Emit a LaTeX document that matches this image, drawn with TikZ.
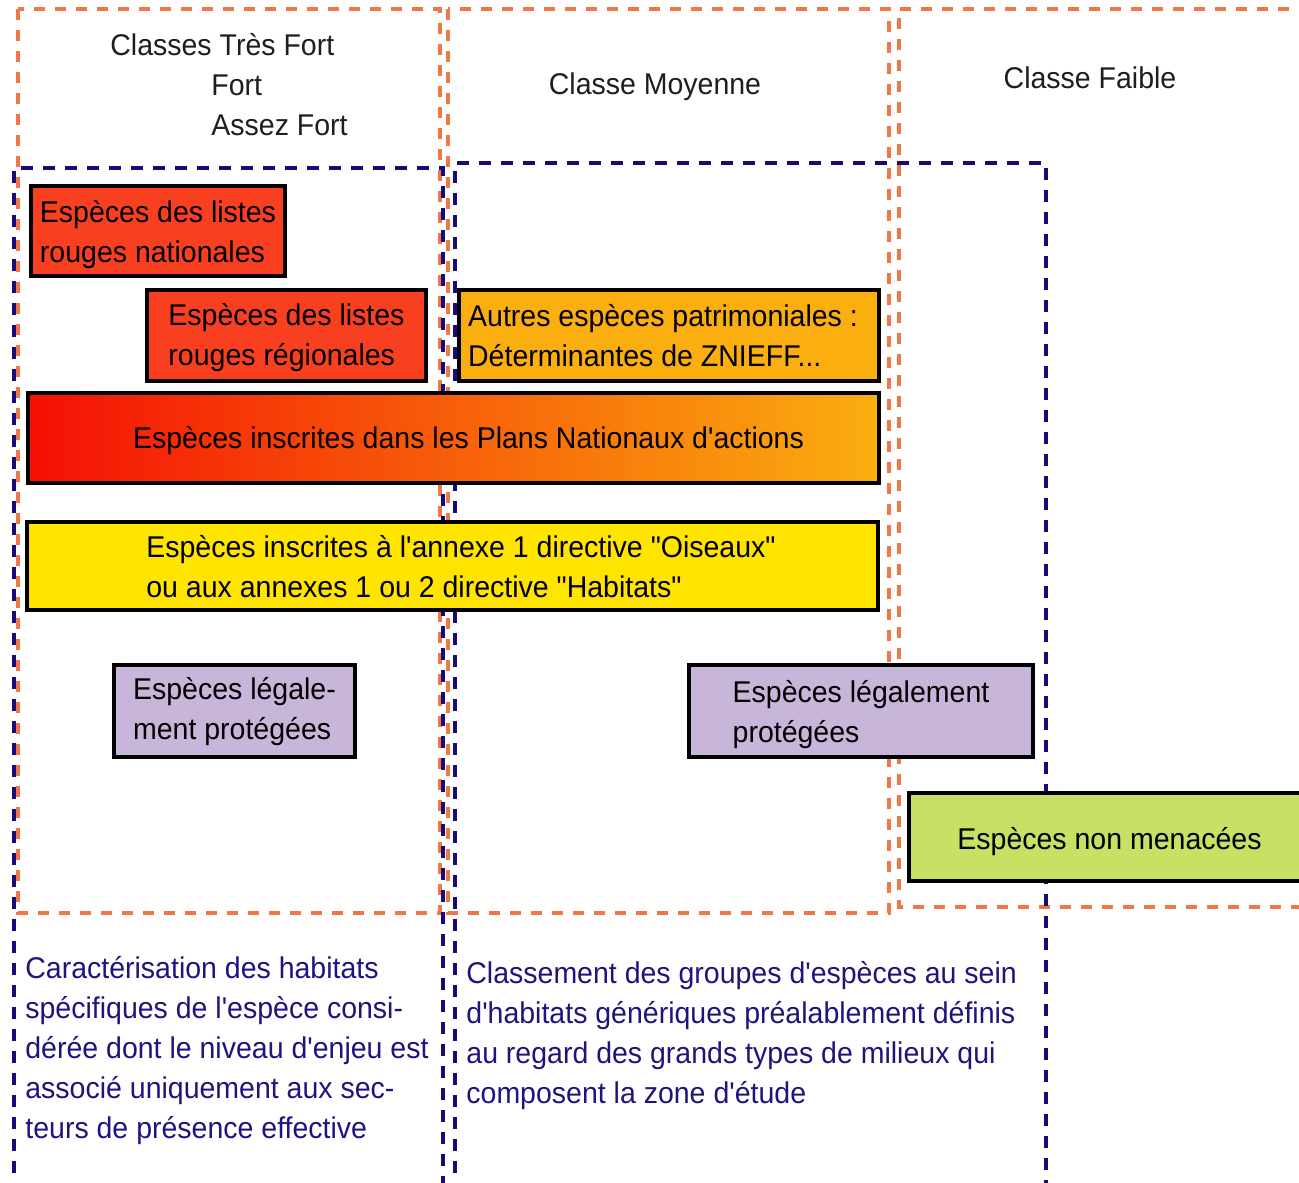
\documentclass[tikz,border=0pt]{standalone}
\usepackage{fontspec}
\setmainfont{Liberation Sans}[FakeStretch=0.95, Ligatures=TeXOff]
\definecolor{dashorange}{RGB}{240,120,70}
\definecolor{dashnavy}{RGB}{25,10,120}
\definecolor{redbox}{RGB}{248,64,32}
\definecolor{ambox}{RGB}{250,174,16}
\definecolor{gradL}{RGB}{245,15,5}
\definecolor{gradR}{RGB}{250,175,15}
\definecolor{yelbox}{RGB}{255,228,0}
\definecolor{lavbox}{RGB}{200,182,218}
\definecolor{grnbox}{RGB}{200,224,100}
\definecolor{navytext}{RGB}{30,20,125}
\definecolor{headtext}{RGB}{30,30,30}
\newcommand{\diagfont}{\fontsize{15pt}{20pt}\selectfont}
\newcommand{\lwr}[2]{\raisebox{-#1}[\height][\depth]{#2}}
\begin{document}
\begin{tikzpicture}[x=0.5pt,y=-0.5pt,
  orangeline/.style={draw=dashorange, line width=1.75pt, dash pattern=on 5.5pt off 5pt},
  navyline/.style={draw=dashnavy, line width=1.6pt, dash pattern=on 6pt off 5pt},
  boxbase/.style={draw=black, line width=1.75pt, rectangle, inner sep=0pt, align=left, font=\diagfont, text=black},
  headlabel/.style={inner sep=0pt, align=left, font=\diagfont, text=headtext},
  notelabel/.style={inner sep=0pt, align=left, font=\diagfont, text=navytext, anchor=west}]
\useasboundingbox (0,0) rectangle (1299,1182);
\clip (0,0) rectangle (1299,1182);
% class zones (orange)
\draw[orangeline] (18,9) rectangle (440,913);
\draw[orangeline] (448,9) rectangle (889,913);
\draw[orangeline] (1310,9) -- (899,9) -- (899,907) -- (1310,907);
% method zones (navy)
\draw[navyline] (14,1195) -- (14,168) -- (443,168) -- (443,1195);
\draw[navyline] (455,1195) -- (455,163) -- (1046,163) -- (1046,1195);
% headers
\node[headlabel, anchor=west] (hfort) at (110,85) {Classes Très Fort\\\hspace*{50.5pt}Fort\\\hspace*{50.5pt}Assez Fort};
\node[headlabel] (hmoy) at (655,87) {Classe Moyenne};
\node[headlabel] (hfaible) at (1090,78) {Classe Faible};
% boxes
\node[boxbase, fill=redbox, minimum width=127pt, minimum height=45pt] (rln) at (158,231) {\lwr{1.75pt}{Espèces des listes}\\\lwr{1.75pt}{rouges nationales}};
\node[boxbase, fill=redbox, minimum width=139.5pt, minimum height=45.5pt] (rlr) at (286.5,335.5) {\lwr{1.25pt}{Espèces des listes}\\\lwr{1.25pt}{rouges régionales}};
\node[boxbase, fill=ambox, minimum width=210pt, minimum height=45.5pt] (patr) at (669,335.5) {Autres espèces patrimoniales :\hspace*{6pt}\\Déterminantes de ZNIEFF...};
\node[boxbase, left color=gradL, right color=gradR, minimum width=425.5pt, minimum height=45pt] (pna) at (453.5,438) {\hspace*{15pt}\lwr{1.5pt}{Espèces inscrites dans les Plans Nationaux d'actions}};
\node[boxbase, fill=yelbox, minimum width=425.5pt, minimum height=44pt] (dir) at (452.5,566) {\hspace*{8.5pt}\lwr{0.5pt}{Espèces inscrites à l'annexe 1 directive "Oiseaux"}\\\hspace*{8.5pt}\lwr{0.5pt}{ou aux annexes 1 ou 2 directive "Habitats"}};
\node[boxbase, fill=lavbox, minimum width=120.5pt, minimum height=46pt] (prot1) at (234.5,711) {\lwr{0.5pt}{Espèces légale-}\\\lwr{0.5pt}{ment protégées}};
\node[boxbase, fill=lavbox, minimum width=172pt, minimum height=46pt] (prot2) at (861,711) {\lwr{1.75pt}{Espèces légalement}\\\lwr{1.75pt}{protégées}\hspace*{4pt}};
\node[boxbase, fill=grnbox, minimum width=200.5pt, minimum height=44pt] (nonmen) at (1109.5,837) {\lwr{2.5pt}{Espèces non menacées}};
% method notes
\node[notelabel] (note1) at (25,1050.5) {Caractérisation des habitats\\spécifiques de l'espèce consi-\\dérée dont le niveau d'enjeu est\\associé uniquement aux sec-\\teurs de présence effective};
\node[notelabel] (note2) at (466,1036) {Classement des groupes d'espèces au sein\\d'habitats génériques préalablement définis\\au regard des grands types de milieux qui\\composent la zone d'étude};
\end{tikzpicture}
\end{document}
